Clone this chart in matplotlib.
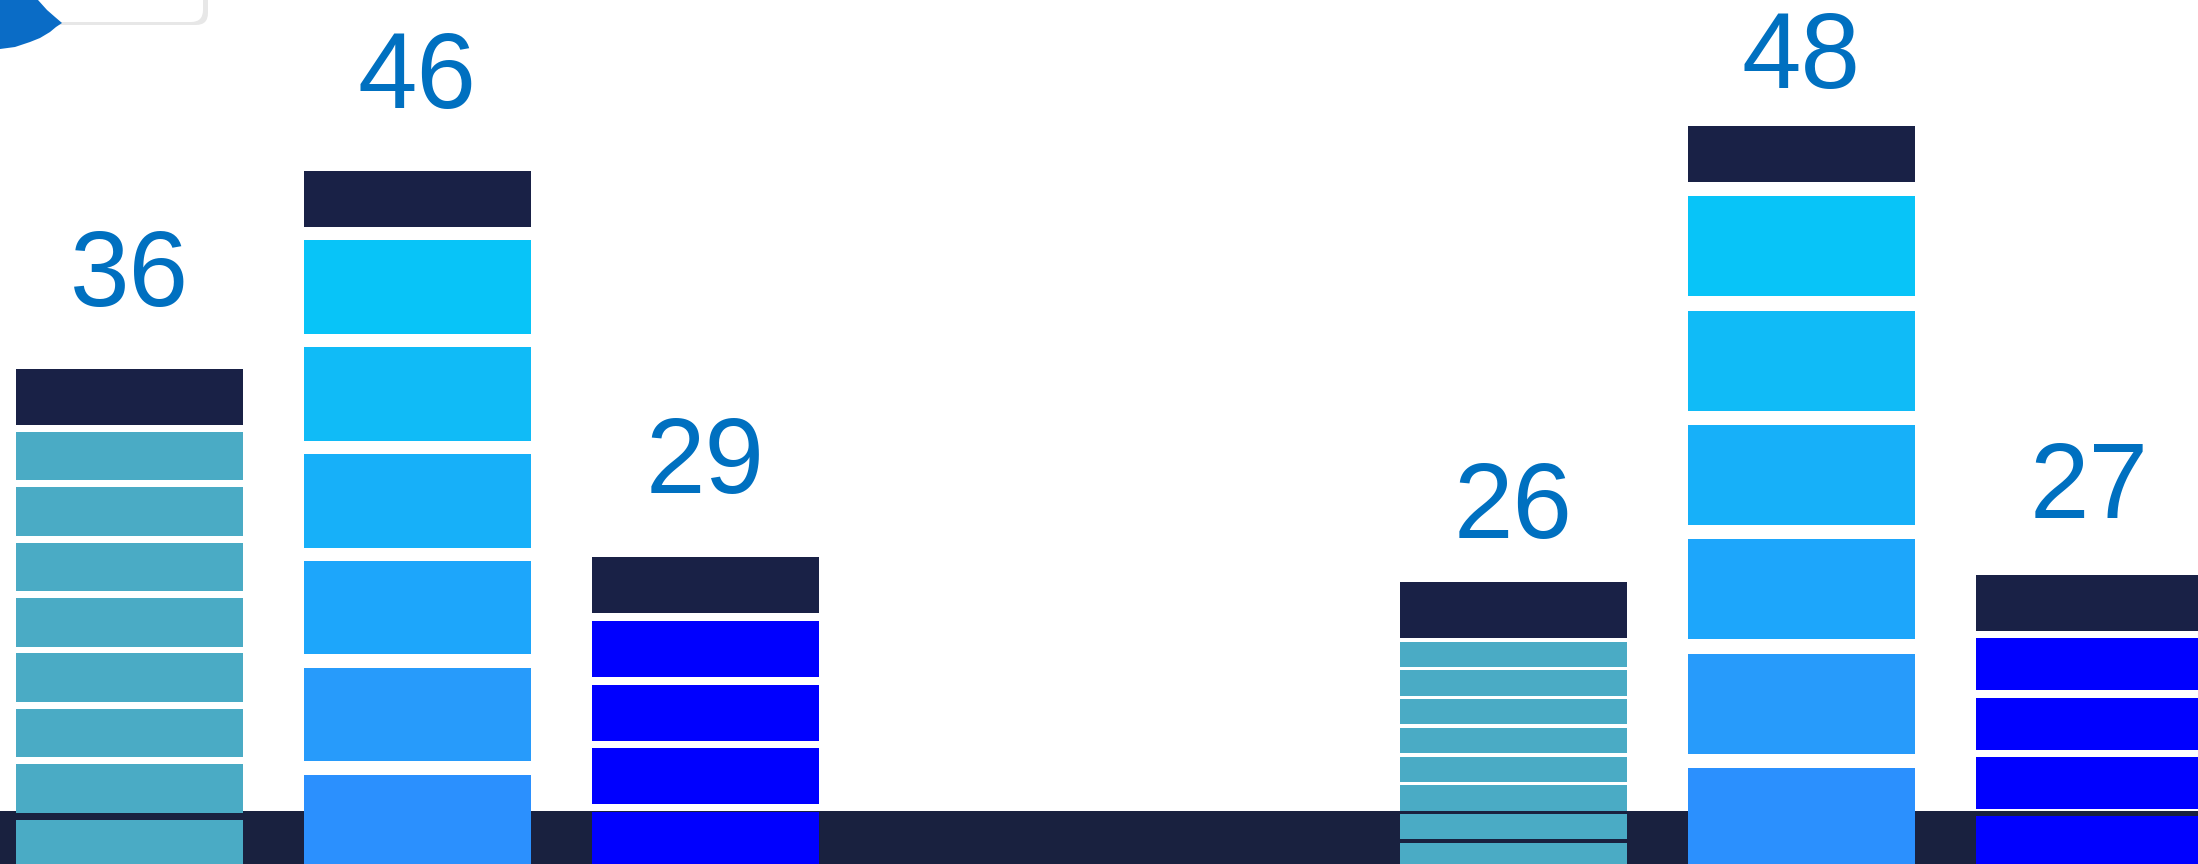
# -*- coding: utf-8 -*-
"""
Stacked block bars with a dark cap, two groups of three, values on top.
"""

import matplotlib
matplotlib.use("Agg")
import matplotlib.pyplot as plt
import matplotlib.patches as patches

# ---- data ----
values = [36, 46, 29, 26, 48, 27]
# number of blocks in each bar (below the dark cap)
block_count = [8, 6, 4, 8, 6, 4]
# height of the block stack (cap excluded), in axis units
stack_height = [443, 641, 255, 230, 686, 237]
# colour scheme of each bar's blocks
scheme = ["teal", "gradient", "blue", "teal", "gradient", "blue"]

# ---- styles ----
TEAL = "#4AABC5"
BLUE = "#0000FF"
GRADIENT = ["#2B90FE", "#279BFB", "#1DA6FB", "#17B0F9", "#10BBF7", "#08C4F8"]
NAVY = "#19213F"
CAP = "#192146"
LABEL = "#0070C0"

# ---- layout (pixel-like axis units) ----
W, H = 2198, 864
BASE = 4            # bars start a little below the bottom edge
FIRST_X = 129.5     # centre of first bar
STEP = 288          # centre-to-centre spacing inside a group
GROUP_STEP = 1383.5 # offset of second group
BAR_W = 227
CAP_H = 56
GAP_FRAC = 0.125
BAND_TOP = 57
label_offset = [63, 63, 64, 44, 38, 57]

plt.rcParams['font.family'] = ['Liberation Sans', 'DejaVu Sans']

fig = plt.figure(figsize=(W / 100, H / 100), dpi=100)
ax = fig.add_axes([0, 0, 1, 1])
ax.set_xlim(0, W)
ax.set_ylim(BASE, BASE + H)
ax.axis("off")
fig.patch.set_facecolor("white")

# dark band along the bottom
ax.axhspan(0, BAND_TOP, color=NAVY, zorder=1, lw=0)


def block_colors(kind, n):
    if kind == "teal":
        return [TEAL] * n
    if kind == "blue":
        return [BLUE] * n
    return GRADIENT[:n]


for k in range(len(values)):
    x = FIRST_X + (k // 3) * GROUP_STEP + (k % 3) * STEP
    n = block_count[k]
    pitch = stack_height[k] / n
    gap = pitch * GAP_FRAC
    cols = block_colors(scheme[k], n)
    bottoms = [i * pitch for i in range(n)]
    ax.bar([x] * n, [pitch - gap] * n, bottom=bottoms, width=BAR_W,
           color=cols, lw=0, zorder=2)
    # dark cap on top of the stack
    ax.bar(x, CAP_H, bottom=stack_height[k], width=BAR_W, color=CAP,
           lw=0, zorder=2)
    ax.text(x, stack_height[k] + CAP_H + label_offset[k], str(values[k]),
            ha="center", va="baseline", fontsize=77, color=LABEL, zorder=3)

# corner decoration cut off at the top left
top = BASE + H
shadow = patches.FancyBboxPatch((50, top - 25), 158, 60,
                                boxstyle="round,pad=0,rounding_size=12",
                                fc="#D8D8D8", ec="none", alpha=0.6, zorder=4)
ax.add_patch(shadow)
card = patches.FancyBboxPatch((45, top - 22), 158, 60,
                              boxstyle="round,pad=0,rounding_size=12",
                              fc="white", ec="none", zorder=5)
ax.add_patch(card)
pin = [(0, 0), (38, 0), (47, 10), (55, 17), (62, 23), (56, 27), (50, 32),
       (40, 38), (30, 42), (15, 47), (0, 49)]
ax.add_patch(patches.Polygon([(px, top - py) for px, py in pin],
                             closed=True, fc="#0A6CC6", ec="none", zorder=6))

fig.savefig("out.png", dpi=100)
